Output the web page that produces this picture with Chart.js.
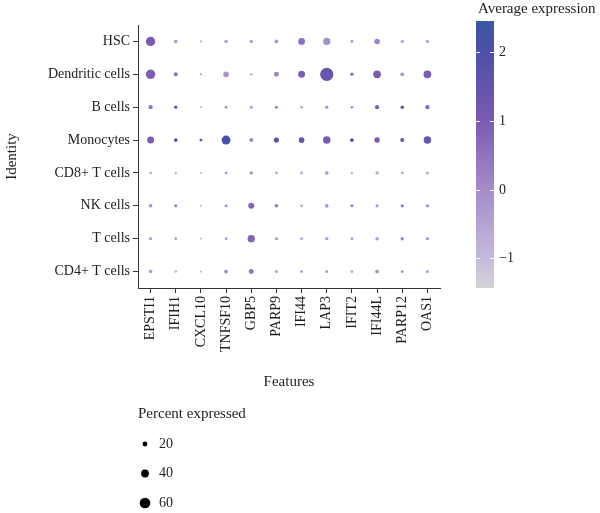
<!DOCTYPE html>
<html>
<head>
<meta charset="utf-8">
<script src="https://cdn.jsdelivr.net/npm/chart.js@4/dist/chart.umd.min.js"></script>
<style>
    html, body { margin: 0; padding: 0; background: #fff; }
    #wrap { width: 600px; height: 513px; position: relative; }
</style>
</head>
<body>
<div id="wrap"><canvas id="dotplot"></canvas></div>
<script>
const FEATURES = ['EPSTI1', 'IFIH1', 'CXCL10', 'TNFSF10', 'GBP5', 'PARP9', 'IFI44', 'LAP3', 'IFIT2', 'IFI44L', 'PARP12', 'OAS1'];
const IDENTITIES = ['HSC', 'Dendritic cells', 'B cells', 'Monocytes', 'CD8+ T cells', 'NK cells', 'T cells', 'CD4+ T cells'];

// percent of cells expressing each feature, one row per identity
const pctHSC       = [51, 10, 3, 9, 10, 12, 33, 36, 8, 25, 8, 8];
const pctDendritic = [52, 15, 3, 26, 4, 20, 34, 78, 10, 40, 13, 40];
const pctB         = [16, 9, 1, 6, 7, 7, 5, 9, 4, 15, 11, 15];
const pctMono      = [34, 12, 6, 48, 14, 22, 26, 38, 13, 24, 15, 38];
const pctCD8       = [5, 3, 1, 6, 9, 6, 6, 12, 4, 9, 6, 7];
const pctNK        = [11, 7, 1, 7, 28, 10, 6, 12, 7, 8, 9, 9];
const pctT         = [9, 6, 1, 6, 37, 7, 6, 9, 6, 10, 10, 9];
const pctCD4       = [11, 4, 1, 12, 20, 7, 6, 7, 6, 12, 7, 7];

// scaled average expression
const avgHSC       = [1.0, -0.2, -0.9, -0.3, -0.4, -0.2, 0.6, -0.1, -0.5, 0.2, -0.4, -0.4];
const avgDendritic = [0.9, 0.4, -0.8, -0.2, -0.7, 0.2, 0.9, 1.4, 0.5, 1.0, -0.1, 1.0];
const avgB         = [0.4, 1.6, -1.0, 0.0, -0.3, 0.3, -0.5, -0.2, 0.2, 0.9, 1.5, 0.7];
const avgMono      = [1.0, 1.7, 1.8, 2.1, 0.1, 1.7, 1.5, 1.0, 1.9, 1.0, 1.2, 1.4];
const avgCD8       = [-0.7, -0.9, -1.1, -0.3, 0.0, -0.5, -0.6, -0.4, -0.7, -0.5, -0.6, -0.6];
const avgNK        = [-0.1, 0.3, -0.9, -0.1, 0.8, 0.5, -0.4, -0.2, 0.3, -0.3, 0.4, -0.1];
const avgT         = [-0.4, -0.4, -1.0, -0.3, 0.8, -0.2, -0.4, -0.3, -0.3, -0.3, 0.2, -0.2];
const avgCD4       = [-0.2, -0.7, -1.0, 0.1, 0.5, -0.4, -0.4, -0.4, -0.4, -0.1, -0.3, -0.3];

const PCT_ROWS = [pctHSC, pctDendritic, pctB, pctMono, pctCD8, pctNK, pctT, pctCD4];
const AVG_ROWS = [avgHSC, avgDendritic, avgB, avgMono, avgCD8, avgNK, avgT, avgCD4];

const COLOR_TICKS = [2, 1, 0, -1];
const SIZE_BREAKS = [20, 40, 60];

const AVG_MIN = -1.43, AVG_MAX = 2.45;
const STOPS = [
    [-1.43, [211, 211, 211]],
    [-1, [198, 186, 223]],
    [0, [164, 140, 201]],
    [1, [122, 91, 176]],
    [2, [77, 79, 166]],
    [2.45, [60, 86, 167]]
];
const FONT = "'Liberation Serif', 'DejaVu Serif', serif";
const INK = '#1e1e1e';

const colorFor = v => {
    v = Math.max(AVG_MIN, Math.min(AVG_MAX, v));
    for (let i = 1; i < STOPS.length; i++) {
        const [v1, c1] = STOPS[i];
        const [v0, c0] = STOPS[i - 1];
        if (v <= v1) {
            const t = (v - v0) / (v1 - v0);
            const c = c0.map((x, k) => Math.round(x + (c1[k] - x) * t));
            return `rgb(${c[0]},${c[1]},${c[2]})`;
        }
    }
    return 'rgb(60,86,167)';
};
const radiusFor = p => 1.0 + 0.072 * p;

const points = [];
IDENTITIES.forEach((cell, ri) => {
    FEATURES.forEach((gene, ci) => {
        points.push({ x: gene, y: cell, r: radiusFor(PCT_ROWS[ri][ci]), avg: AVG_ROWS[ri][ci] });
    });
});

// colour bar + size legend, drawn beside the plot
const legendsPlugin = {
    id: 'legends',
    afterDraw(chart) {
        const ctx = chart.ctx;
        const barX = 476, barW = 18, barTop = 21, barBottom = 288;
        const yOf = v => barTop + (AVG_MAX - v) / (AVG_MAX - AVG_MIN) * (barBottom - barTop);
        ctx.save();
        const grad = ctx.createLinearGradient(0, barBottom, 0, barTop);
        STOPS.forEach(([v, c]) => {
            grad.addColorStop((v - AVG_MIN) / (AVG_MAX - AVG_MIN), `rgb(${c[0]},${c[1]},${c[2]})`);
        });
        ctx.fillStyle = grad;
        ctx.fillRect(barX, barTop, barW, barBottom - barTop);

        ctx.strokeStyle = '#fff';
        ctx.lineWidth = 1;
        ctx.font = `14px ${FONT}`;
        ctx.fillStyle = INK;
        ctx.textAlign = 'left';
        ctx.textBaseline = 'middle';
        COLOR_TICKS.forEach(v => {
            const y = Math.round(yOf(v)) + 0.5;
            ctx.beginPath();
            ctx.moveTo(barX, y); ctx.lineTo(barX + 4, y);
            ctx.moveTo(barX + barW - 4, y); ctx.lineTo(barX + barW, y);
            ctx.stroke();
            ctx.fillText(v < 0 ? '\u2212' + Math.abs(v) : String(v), 499, y);
        });
        ctx.font = `15px ${FONT}`;
        ctx.fillText('Average expression', 478, 9);

        // percent expressed legend
        ctx.fillText('Percent expressed', 138, 414);
        ctx.font = `14px ${FONT}`;
        SIZE_BREAKS.forEach((p, i) => {
            const y = 444 + i * 29.5;
            ctx.fillStyle = '#000';
            ctx.beginPath();
            ctx.arc(145, y, radiusFor(p), 0, Math.PI * 2);
            ctx.fill();
            ctx.fillStyle = INK;
            ctx.fillText(String(p), 159, y);
        });
        ctx.restore();
    }
};

new Chart(document.getElementById('dotplot'), {
    type: 'bubble',
    data: {
        datasets: [{
            data: points,
            backgroundColor: points.map(p => colorFor(p.avg)),
            borderWidth: 0,
            hoverBorderWidth: 0
        }]
    },
    options: {
        responsive: true,
        maintainAspectRatio: false,
        animation: false,
        layout: { padding: { left: 0, top: 25, right: 160, bottom: 122 } },
        plugins: {
            legend: { display: false },
            tooltip: { enabled: false }
        },
        scales: {
            x: {
                type: 'category',
                labels: FEATURES,
                offset: true,
                afterFit: s => { s.height = 103; },
                grid: { drawOnChartArea: false, drawTicks: true, tickLength: 5, color: '#333' },
                border: { display: true, color: '#333', width: 1 },
                ticks: { color: INK, font: { family: FONT, size: 14 }, minRotation: 90, maxRotation: 90, padding: 3, autoSkip: false },
                title: { display: true, text: 'Features', color: INK, font: { family: FONT, size: 15 }, padding: { top: 0, bottom: 0 } }
            },
            y: {
                type: 'category',
                labels: IDENTITIES,
                offset: true,
                afterFit: s => { s.width = 138; },
                grid: { drawOnChartArea: false, drawTicks: true, tickLength: 5, color: '#333' },
                border: { display: true, color: '#333', width: 1 },
                ticks: { color: INK, font: { family: FONT, size: 14 }, padding: 3, autoSkip: false },
                title: { display: true, text: 'Identity', color: INK, font: { family: FONT, size: 15 }, padding: { top: 3, bottom: 0 } }
            }
        }
    },
    plugins: [legendsPlugin]
});
</script>
</body>
</html>
